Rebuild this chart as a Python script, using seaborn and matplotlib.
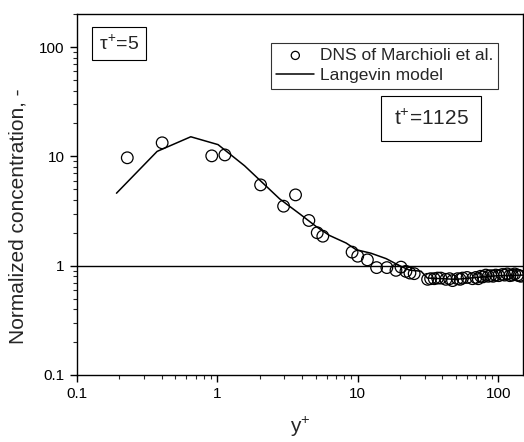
import numpy as np
import pandas as pd
import matplotlib
matplotlib.use("Agg")
import matplotlib.pyplot as plt
import seaborn as sns
from matplotlib.ticker import LogLocator, FixedLocator, FixedFormatter, NullFormatter

# DNS data (Marchioli et al.)
dns_y = [0.228, 0.404, 0.911, 1.13, 2.03, 2.96, 3.6, 4.48, 5.14, 5.63,
         9.1, 9.98, 11.7, 13.6, 16.1, 18.7, 20.3, 22.0, 23.5, 25.2,
         31.4, 33.0, 35.0, 37.0, 39.0, 42.4, 45.0, 47.3, 51.3, 53.5,
         55.7, 60.0, 65.6, 69.3, 72.0, 75.0, 78.0, 81.6, 85.0, 88.5,
         92.0, 96.0, 101.0, 107.0, 111.0, 116.0, 121.0, 126.0, 131.0, 137.0,
         141.0, 145.0]
dns_c = [9.7, 13.3, 10.1, 10.3, 5.48, 3.5, 4.44, 2.59, 2.0, 1.86,
         1.33, 1.22, 1.13, 0.96, 0.96, 0.906, 0.97, 0.887, 0.856, 0.845,
         0.75, 0.76, 0.76, 0.77, 0.77, 0.75, 0.76, 0.73, 0.76, 0.75,
         0.77, 0.78, 0.76, 0.78, 0.76, 0.80, 0.79, 0.82, 0.80, 0.81,
         0.80, 0.82, 0.81, 0.83, 0.82, 0.84, 0.81, 0.82, 0.84, 0.82,
         0.81, 0.80]

# Langevin model
lan_y = [0.191, 0.372, 0.646, 1.01, 1.56, 2.77, 3.09, 3.85, 5.05, 6.28,
         8.26, 9.73, 12.4, 15.9, 19.8, 23.3, 28.2, 31.3, 40.0, 50.0,
         70.0, 100.0, 150.0]
lan_c = [4.6, 11.1, 15.1, 12.8, 8.2, 4.09, 3.68, 2.98, 2.28, 1.89,
         1.61, 1.40, 1.30, 1.16, 1.0, 0.91, 0.89, 0.77, 0.76, 0.75,
         0.78, 0.81, 0.82]

x_ticks = [0.1, 1, 10, 100]
x_labels = ["0.1", "1", "10", "100"]
y_ticks = [0.1, 1, 10, 100]
y_labels = ["0.1", "1", "10", "100"]

sns.set_theme(style="ticks")
plt.rcParams["font.family"] = ["Liberation Sans", "DejaVu Sans"]
plt.rcParams["mathtext.fontset"] = "custom"
plt.rcParams["mathtext.rm"] = "Liberation Sans"
plt.rcParams["mathtext.it"] = "Liberation Sans"

fig = plt.figure(figsize=(5.24, 4.42), dpi=100)
ax = fig.add_axes([0.147, 0.1516, 0.851, 0.8165])

dns = pd.DataFrame({"y": dns_y, "c": dns_c})
lan = pd.DataFrame({"y": lan_y, "c": lan_c})

ax.axhline(1.0, color="black", lw=1.0, zorder=1)
sns.lineplot(data=lan, x="y", y="c", ax=ax, color="black", lw=1.1,
             label="Langevin model", zorder=2, sort=False)
sns.scatterplot(data=dns, x="y", y="c", ax=ax, marker="o", s=70,
                facecolor="none", edgecolor="black", linewidth=0.9,
                label="DNS of Marchioli et al.", zorder=3)

ax.set_xscale("log")
ax.set_yscale("log")
ax.set_xlim(0.1, 150)
ax.set_ylim(0.1, 200)

ax.xaxis.set_major_locator(FixedLocator(x_ticks))
ax.xaxis.set_major_formatter(FixedFormatter(x_labels))
ax.yaxis.set_major_locator(FixedLocator(y_ticks))
ax.yaxis.set_major_formatter(FixedFormatter(y_labels))
ax.xaxis.set_minor_locator(LogLocator(base=10, subs=np.arange(2, 10)))
ax.yaxis.set_minor_locator(LogLocator(base=10, subs=np.arange(2, 10)))
ax.xaxis.set_minor_formatter(NullFormatter())
ax.yaxis.set_minor_formatter(NullFormatter())

ax.tick_params(which="major", direction="out", length=5, width=1.0,
               labelsize=11, colors="black", pad=4)
ax.tick_params(which="minor", direction="out", length=3, width=0.8)

for s in ax.spines.values():
    s.set_visible(True)
    s.set_color("black")
    s.set_linewidth(1.0)

ax.set_xlabel("y$^{+}$", fontsize=15, labelpad=10)
ax.set_ylabel("Normalized concentration, -", fontsize=15, labelpad=8)
ax.yaxis.label.set_y(0.44)

# legend: circles first, then line
handles, labels = ax.get_legend_handles_labels()
order = [labels.index("DNS of Marchioli et al."), labels.index("Langevin model")]
leg = ax.legend([handles[i] for i in order], [labels[i] for i in order],
                loc="upper left", bbox_to_anchor=(0.435, 0.921),
                borderaxespad=0, frameon=True, fancybox=False,
                fontsize=12.5, handlelength=2.2, handletextpad=0.3,
                borderpad=0.3, labelspacing=0.3, markerscale=0.7)
leg.get_frame().set_edgecolor("black")
leg.get_frame().set_linewidth(0.8)

ax.text(0.094, 0.918, r"$\tau^{+}$=5", transform=ax.transAxes, fontsize=14,
        ha="center", va="center",
        bbox=dict(boxstyle="square,pad=0.35", facecolor="white",
                  edgecolor="black", lw=0.8))
ax.text(0.794, 0.710, "t$^{+}$=1125", transform=ax.transAxes, fontsize=15,
        ha="center", va="center",
        bbox=dict(boxstyle="square,pad=0.6", facecolor="white",
                  edgecolor="black", lw=0.8))

fig.savefig("out.png", dpi=100)
